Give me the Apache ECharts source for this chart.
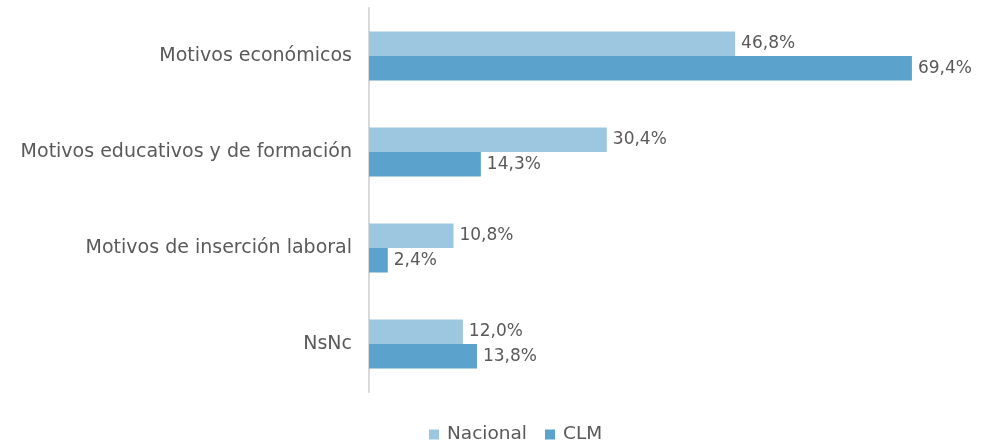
<!DOCTYPE html>
<html>
<head>
<meta charset="utf-8">
<script src="https://cdn.jsdelivr.net/npm/echarts@6/dist/echarts.min.js"></script>
<style>
  html, body { margin: 0; padding: 0; background: #fff; }
  #chart { width: 982px; height: 444px; }
</style>
</head>
<body>
<div id="chart"></div>
<script>
const categories = ['Motivos económicos', 'Motivos educativos y de formación', 'Motivos de inserción laboral', 'NsNc']
const nacional = [46.8, 30.4, 10.8, 12.0]
const clm = [69.4, 14.3, 2.4, 13.8]

const chart = echarts.init(document.getElementById('chart'))
const fmt = p => p.value.toFixed(1).replace('.', ',') + '%'
const font = '"DejaVu Sans", sans-serif'

chart.setOption({
  animation: false,
  textStyle: { fontFamily: font },
  grid: { left: 369, top: 8, width: 547.6, height: 384 },
  legend: {
    top: 420,
    left: 424,
    itemWidth: 10,
    itemHeight: 10,
    itemGap: 18,
    icon: 'rect',
    textStyle: { fontSize: 18.5, color: '#595959', fontFamily: font, padding: [0, 0, 0, 3] },
    data: ['Nacional', 'CLM']
  },
  xAxis: {
    type: 'value',
    min: 0,
    max: 70,
    show: false
  },
  yAxis: {
    type: 'category',
    inverse: true,
    data: categories,
    axisLine: { show: true, lineStyle: { color: '#d9d9d9', width: 2 } },
    axisTick: { show: false },
    axisLabel: { fontSize: 19, color: '#595959', margin: 17, fontFamily: font }
  },
  series: [
    {
      name: 'Nacional',
      type: 'bar',
      data: nacional,
      barWidth: 24.5,
      barGap: '0%',
      itemStyle: { color: '#9dc7e1' },
      label: { show: true, position: 'right', distance: 6, fontSize: 17, color: '#595959', formatter: fmt, fontFamily: font }
    },
    {
      name: 'CLM',
      type: 'bar',
      data: clm,
      barWidth: 24.5,
      itemStyle: { color: '#5ba3cd' },
      label: { show: true, position: 'right', distance: 6, fontSize: 17, color: '#595959', formatter: fmt, fontFamily: font }
    }
  ]
})
</script>
</body>
</html>
